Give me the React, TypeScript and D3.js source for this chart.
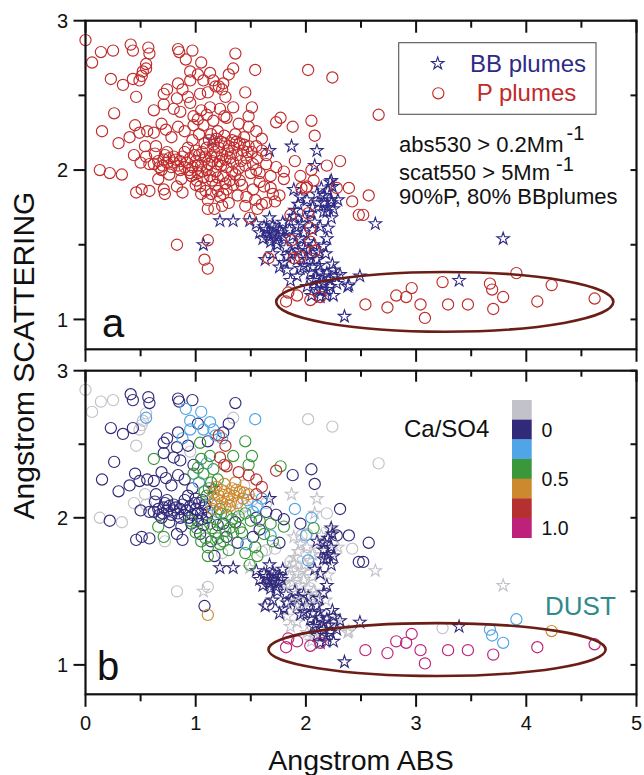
import React from 'react';
import * as d3 from 'd3';

type Pt = [number, number, string];

// ---------- data ----------
const xDomain: [number, number] = [0, 5];
const yDomain: [number, number] = [0.8, 3];
const xTickValues = [0, 1, 2, 3, 4, 5];
const yTickValues = [1, 2, 3];
const minorStep = 0.5;

const categoryKeys = ['g', 'n', 'lb', 'gr', 'o', 'r', 'm'];
const categoryColors = ['#c2c2ca', '#312a7a', '#4fa5e6', '#3a973a', '#cc892d', '#b53030', '#be2179'];
const colorbarLabels = [
  { label: '0', key: 'n', pos: 'center' },
  { label: '0.5', key: 'o', pos: 'start' },
  { label: '1.0', key: 'm', pos: 'center' },
];

// ellipse: [cx, cy, rx, ry] in data units
const ellipseA = [3.26, 1.118, 1.53, 0.2];
const ellipseB = [3.19, 1.104, 1.53, 0.18];

// P plumes (circles): x, y, Ca/SO4 class
const pPlumes: Pt[] = [
  [0.00, 2.87, 'g'], [0.06, 2.72, 'g'], [0.14, 2.79, 'g'], [0.25, 2.80, 'g'], [0.41, 2.84, 'n'], [0.43, 2.80, 'n'],
  [0.57, 2.82, 'n'], [0.58, 2.78, 'n'], [0.55, 2.71, 'g'], [0.55, 2.68, 'lb'], [0.52, 2.66, 'g'], [0.84, 2.81, 'n'],
  [0.85, 2.79, 'n'], [0.97, 2.80, 'n'], [0.91, 2.74, 'lb'], [1.05, 2.72, 'lb'], [1.36, 2.78, 'n'], [1.54, 2.67, 'lb'],
  [1.34, 2.68, 'g'], [1.30, 2.64, 'n'],
  [0.23, 2.61, 'n'], [0.34, 2.57, 'n'], [0.43, 2.61, 'n'], [0.49, 2.60, 'g'], [0.51, 2.63, 'g'], [0.46, 2.49, 'g'],
  [0.71, 2.51, 'n'], [0.74, 2.54, 'n'], [0.84, 2.58, 'n'], [0.88, 2.54, 'lb'], [0.95, 2.66, 'lb'], [0.95, 2.60, 'lb'],
  [1.02, 2.64, 'n'], [1.07, 2.60, 'lb'], [1.13, 2.65, 'lb'], [1.16, 2.60, 'lb'], [1.21, 2.56, 'r'], [1.24, 2.54, 'lb'],
  [1.27, 2.49, 'r'], [1.25, 2.58, 'n'], [1.45, 2.52, 'gr'], [0.83, 2.48, 'n'], [0.93, 2.49, 'n'], [1.04, 2.51, 'gr'],
  [1.11, 2.52, 'n'], [1.18, 2.56, 'lb'],
  [0.26, 2.38, 'n'], [0.62, 2.40, 'gr'], [0.71, 2.44, 'n'], [0.80, 2.41, 'n'], [0.86, 2.39, 'n'], [0.95, 2.45, 'g'],
  [1.05, 2.40, 'gr'], [1.13, 2.42, 'gr'], [1.22, 2.41, 'r'], [1.34, 2.42, 'gr'], [1.48, 2.36, 'gr'], [1.51, 2.42, 'gr'],
  [1.26, 2.36, 'r'],
  [0.15, 2.26, 'n'], [0.30, 2.18, 'n'], [0.45, 2.30, 'n'], [0.40, 2.22, 'n'], [0.49, 2.25, 'n'], [0.56, 2.26, 'n'],
  [0.62, 2.25, 'n'], [0.69, 2.31, 'n'], [0.84, 2.29, 'n'], [0.98, 2.30, 'gr'], [1.07, 2.30, 'gr'], [1.10, 2.37, 'lb'],
  [1.16, 2.33, 'gr'], [1.28, 2.35, 'r'], [1.39, 2.31, 'r'], [1.48, 2.29, 'r'], [1.73, 2.32, 'r'], [1.77, 2.35, 'gr'],
  [1.88, 2.29, 'n'], [2.05, 2.33, 'n'], [2.08, 2.23, 'n'], [2.02, 2.67, 'g'], [2.24, 2.62, 'g'], [2.66, 2.37, 'g'],
  [1.60, 2.21, 'r'], [1.55, 2.26, 'r'],
  [0.13, 2.00, 'g'], [0.22, 1.98, 'n'], [0.33, 1.97, 'g'], [0.46, 1.85, 'n'], [0.51, 1.87, 'n'], [0.58, 1.86, 'n'],
  [0.71, 1.87, 'gr'], [0.72, 1.84, 'g'], [0.83, 1.89, 'n'], [0.88, 1.85, 'n'],
  [0.54, 2.16, 'g'], [0.63, 2.11, 'n'], [0.71, 2.07, 'n'], [0.74, 2.12, 'n'], [0.80, 2.09, 'n'], [0.86, 2.06, 'n'],
  [0.90, 2.02, 'n'], [0.95, 1.98, 'gr'], [1.01, 1.93, 'gr'], [1.04, 1.89, 'n'], [1.05, 1.84, 'gr'], [1.11, 1.80, 'gr'],
  [1.11, 1.74, 'gr'], [1.17, 1.74, 'n'], [1.22, 1.82, 'gr'], [1.28, 1.87, 'n'], [1.34, 1.90, 'gr'], [1.40, 1.93, 'gr'],
  [1.46, 1.82, 'lb'], [1.54, 1.80, 'gr'], [1.60, 1.77, 'g'], [1.56, 1.74, 'gr'], [1.64, 1.78, 'g'], [1.49, 1.68, 'gr'],
  [1.55, 2.00, 'n'], [1.64, 2.04, 'n'], [1.73, 2.02, 'n'], [1.80, 1.99, 'n'], [1.80, 1.94, 'gr'], [1.95, 1.96, 'n'],
  [2.05, 2.00, 'lb'], [2.19, 2.03, 'g'], [2.07, 1.93, 'gr'], [2.00, 1.88, 'lb'], [2.31, 2.06, 'n'], [2.28, 1.88, 'n'],
  [1.96, 1.88, 'g'],
  [1.11, 1.53, 'g'], [1.08, 1.40, 'n'], [1.11, 1.34, 'o'], [0.83, 1.50, 'g'],
  [0.62, 2.04, 'n'], [0.66, 2.06, 'n'], [0.70, 2.03, 'n'], [0.74, 2.05, 'n'], [0.78, 2.02, 'n'], [0.82, 2.07, 'n'],
  [0.84, 2.03, 'n'], [0.88, 2.09, 'n'], [0.92, 2.05, 'n'], [0.95, 2.08, 'n'], [0.97, 2.02, 'n'], [1.00, 2.06, 'n'],
  [1.03, 2.10, 'n'], [1.05, 2.03, 'n'], [1.08, 2.07, 'n'], [1.10, 2.00, 'n'], [1.12, 2.04, 'n'], [1.14, 2.09, 'lb'],
  [0.96, 1.96, 'n'], [1.02, 1.98, 'n'], [1.07, 1.95, 'n'], [1.13, 1.96, 'gr'], [1.18, 1.99, 'gr'], [1.20, 2.04, 'lb'],
  [1.17, 2.12, 'o'], [1.21, 2.15, 'o'], [1.24, 2.10, 'o'], [1.26, 2.18, 'o'], [1.29, 2.13, 'o'], [1.31, 2.08, 'o'],
  [1.33, 2.20, 'o'], [1.35, 2.15, 'o'], [1.38, 2.10, 'o'], [1.40, 2.18, 'o'], [1.43, 2.13, 'o'], [1.46, 2.08, 'g'],
  [1.48, 2.16, 'o'], [1.51, 2.12, 'g'], [1.26, 2.23, 'o'], [1.36, 2.24, 'o'], [1.44, 2.22, 'g'], [1.22, 2.06, 'gr'],
  [1.28, 2.02, 'gr'], [1.34, 2.05, 'g'], [1.39, 2.01, 'gr'], [1.45, 2.03, 'gr'], [1.50, 1.98, 'gr'], [1.56, 2.08, 'lb'],
  [1.60, 2.13, 'lb'], [1.64, 2.10, 'g'], [1.25, 1.96, 'n'], [1.31, 1.93, 'gr'], [1.36, 1.97, 'n'], [1.42, 1.90, 'gr'],
  [1.18, 1.90, 'gr'], [1.00, 2.13, 'n'], [0.93, 2.15, 'n'], [1.08, 2.18, 'gr'], [1.03, 2.24, 'lb'], [0.97, 2.20, 'n'],
  [1.14, 2.24, 'gr'], [1.20, 2.26, 'gr'], [0.69, 2.00, 'n'], [0.76, 1.97, 'n'], [0.58, 2.04, 'n'], [0.55, 2.09, 'g'],
  [0.66, 1.94, 'gr'], [0.87, 1.94, 'n'], [1.52, 1.87, 'n'], [1.58, 1.92, 'n'], [1.68, 1.96, 'gr'], [1.45, 1.76, 'gr'],
  [1.38, 1.83, 'n'], [1.30, 1.78, 'gr'], [1.24, 1.76, 'g'], [1.68, 1.88, 'lb'], [1.90, 2.06, 'lb'], [0.50, 2.05, 'n'],
  [0.44, 2.10, 'g'], [0.64, 2.16, 'n'],
  [1.06, 2.12, 'n'], [1.10, 2.15, 'gr'], [1.15, 2.06, 'o'], [1.19, 2.09, 'o'], [1.23, 2.03, 'gr'], [1.27, 2.07, 'o'],
  [1.30, 2.16, 'o'], [1.32, 2.11, 'o'], [1.37, 2.19, 'o'], [1.41, 2.06, 'g'], [1.44, 2.17, 'o'], [1.47, 2.12, 'lb'],
  [1.16, 2.17, 'o'], [1.12, 2.20, 'gr'], [1.19, 2.21, 'o'], [1.23, 2.19, 'o'], [1.09, 2.09, 'n'], [1.02, 2.03, 'n'],
  [0.99, 2.10, 'n'], [0.94, 2.00, 'n'], [0.90, 2.12, 'n'], [0.86, 2.00, 'n'], [0.80, 2.05, 'n'], [0.76, 2.08, 'n'],
  [0.72, 2.10, 'n'], [0.67, 2.02, 'n'], [1.15, 1.93, 'gr'], [1.20, 1.95, 'n'], [1.27, 1.91, 'gr'], [1.33, 1.99, 'gr'],
  [1.06, 1.99, 'n'], [1.00, 1.90, 'gr'], [1.09, 1.86, 'gr'], [1.14, 1.84, 'n'], [1.20, 1.86, 'gr'], [1.25, 1.84, 'gr'],
  [1.55, 2.16, 'r'], [1.52, 2.04, 'lb'], [1.58, 1.98, 'gr'], [1.62, 1.89, 'gr'], [1.70, 1.84, 'gr'], [1.72, 1.79, 'g'],
  [1.76, 1.83, 'n'], [0.98, 2.36, 'n'], [1.02, 2.34, 'gr'], [0.90, 2.26, 'n'], [0.78, 2.22, 'n'], [0.73, 2.27, 'n'],
  [1.86, 1.70, 'g'], [2.02, 1.71, 'lb'], [2.04, 1.61, 'g'], [1.87, 1.53, 'g'], [2.04, 1.52, 'g'], [2.08, 1.46, 'g'],
  [1.89, 1.41, 'g'], [1.95, 1.42, 'g'], [1.66, 1.41, 'n'], [2.01, 1.89, 'g'], [2.39, 1.88, 'n'], [2.42, 1.79, 'g'],
  [2.57, 1.83, 'n'], [2.48, 1.70, 'n'], [2.52, 1.70, 'n'],
  [1.82, 1.12, 'm'], [1.84, 1.18, 'm'], [1.92, 1.16, 'm'], [2.04, 1.13, 'm'], [2.13, 1.15, 'm'], [2.54, 1.10, 'm'],
  [2.74, 1.08, 'm'], [2.82, 1.16, 'm'], [2.91, 1.15, 'm'], [2.96, 1.21, 'm'], [3.04, 1.10, 'm'], [3.08, 1.01, 'm'],
  [3.29, 1.10, 'm'], [3.47, 1.10, 'm'], [3.70, 1.07, 'm'], [4.10, 1.12, 'm'], [4.62, 1.14, 'm'], [3.24, 1.25, 'g'],
  [3.67, 1.24, 'lb'], [3.69, 1.20, 'lb'], [3.79, 1.15, 'lb'], [3.91, 1.31, 'lb'], [4.23, 1.23, 'o'],
];

// BB plumes (stars)
const bbPlumes: Pt[] = [
  [1.67, 2.13, 'n'], [1.87, 2.16, 'g'], [2.10, 2.13, 'g'], [2.08, 2.03, 'g'], [2.23, 1.93, 'n'], [2.23, 1.80, 'n'],
  [2.63, 1.64, 'g'], [3.79, 1.54, 'g'], [3.39, 1.26, 'n'], [2.49, 1.29, 'n'], [2.39, 1.23, 'g'], [2.35, 1.02, 'n'],
  [1.22, 1.66, 'n'], [1.34, 1.66, 'n'], [1.49, 1.66, 'g'], [1.07, 1.50, 'g'], [1.15, 2.20, 'n'],
  [1.63, 1.40, 'n'], [1.58, 1.58, 'n'], [1.64, 1.60, 'n'], [1.67, 1.55, 'n'], [1.73, 1.53, 'n'], [1.76, 1.60, 'n'],
  [1.70, 1.63, 'n'], [1.79, 1.65, 'n'], [1.89, 1.69, 'g'], [1.90, 1.73, 'g'], [1.89, 1.87, 'g'], [2.10, 1.84, 'n'],
  [2.16, 1.78, 'n'], [2.23, 1.78, 'g'], [2.22, 1.92, 'g'], [2.13, 1.62, 'n'], [2.20, 1.61, 'g'], [2.19, 1.54, 'n'],
  [2.16, 1.49, 'n'], [2.07, 1.50, 'g'], [1.95, 1.54, 'g'], [1.83, 1.42, 'n'], [1.76, 1.35, 'n'], [1.86, 1.26, 'g'],
  [1.95, 1.34, 'n'], [2.01, 1.40, 'n'], [2.10, 1.40, 'n'], [2.13, 1.32, 'n'], [2.19, 1.31, 'n'], [2.25, 1.33, 'n'],
  [2.31, 1.30, 'n'], [2.07, 1.26, 'n'], [2.16, 1.24, 'n'], [2.22, 1.22, 'n'], [2.25, 1.16, 'n'], [2.13, 1.15, 'n'],
  [2.01, 1.22, 'g'], [2.38, 1.22, 'g'], [1.67, 1.68, 'n'], [1.55, 1.64, 'n'], [1.96, 1.64, 'g'], [2.04, 1.71, 'g'],
  [2.01, 1.80, 'g'], [1.95, 1.82, 'g'], [2.16, 1.72, 'n'], [2.23, 1.68, 'n'], [1.93, 1.46, 'n'], [2.04, 1.43, 'g'],
  [1.92, 1.40, 'n'], [1.83, 1.33, 'g'], [1.92, 1.29, 'g'], [2.04, 1.31, 'n'], [2.10, 1.20, 'n'], [2.19, 1.20, 'n'],
  [2.05, 1.16, 'g'],
  [1.62, 1.62, 'n'], [1.66, 1.58, 'n'], [1.70, 1.57, 'n'], [1.72, 1.61, 'n'], [1.75, 1.56, 'n'], [1.78, 1.58, 'n'],
  [1.68, 1.52, 'n'], [1.61, 1.54, 'n'], [1.74, 1.50, 'n'], [1.80, 1.55, 'g'], [1.85, 1.60, 'g'], [1.88, 1.56, 'g'],
  [1.90, 1.50, 'n'], [1.98, 1.48, 'n'], [2.02, 1.52, 'g'], [1.98, 1.58, 'g'], [2.06, 1.60, 'g'], [2.08, 1.65, 'n'],
  [1.93, 1.62, 'g'], [1.85, 1.66, 'g'], [1.82, 1.48, 'n'], [1.87, 1.44, 'n'], [1.98, 1.36, 'n'], [2.06, 1.35, 'n'],
  [2.12, 1.36, 'n'], [2.16, 1.29, 'n'], [2.21, 1.27, 'n'], [2.27, 1.29, 'g'], [2.28, 1.24, 'n'], [2.09, 1.28, 'n'],
  [2.12, 1.24, 'g'], [2.18, 1.16, 'n'], [2.14, 1.19, 'g'], [2.24, 1.37, 'n'], [2.18, 1.44, 'g'], [2.12, 1.45, 'n'],
  [1.80, 1.38, 'n'], [1.70, 1.44, 'n'], [2.02, 1.46, 'n'], [2.24, 1.89, 'n'], [2.14, 1.88, 'g'], [2.20, 1.86, 'n'],
  [2.11, 1.78, 'g'], [2.19, 1.72, 'n'], [2.25, 1.74, 'n'], [2.06, 1.75, 'g'], [1.99, 1.68, 'g'], [1.93, 1.77, 'g'],
  [2.29, 1.80, 'g'], [2.17, 1.83, 'n'], [2.20, 1.75, 'n'],
];

// ---------- layout ----------
const W = 644;
const H = 775;
const X0 = 85.5;
const X1 = 636.5;
const panels = [
  { id: 'a', top: 20.7, bottom: 349.3, colored: false, ellipse: ellipseA, topTick: [12, 7] },
  { id: 'b', top: 370.7, bottom: 694.3, colored: true, ellipse: ellipseB, topTick: [11, 6] },
];
const FONT = "'Liberation Sans', Arial, Helvetica, sans-serif";
const P_RED = '#c02b2b';
const BB_BLUE = '#2f2a84';
const ELLIPSE_COLOR = '#6a1e15';
const R = 5.6;

const x = d3.scaleLinear().domain(xDomain).range([X0, X1]);
const starPath = d3.symbol(d3.symbolStar, 48)() as string;
const colorOf = (k: string) => categoryColors[categoryKeys.indexOf(k)];
const order = (k: string) => categoryKeys.indexOf(k);

const minorTicks = d3.range(xDomain[0], xDomain[1] + 1e-9, minorStep);
const minorYTicks = d3.range(1, yDomain[1] + 1e-9, minorStep);

function Panel({ p }: { p: typeof panels[number] }) {
  const y = d3.scaleLinear().domain(yDomain).range([p.bottom, p.top]);
  const [ecx, ecy, erx, ery] = p.ellipse;
  const stars = p.colored ? [...bbPlumes].sort((a, b) => order(a[2]) - order(b[2])) : bbPlumes;
  const circles = p.colored ? [...pPlumes].sort((a, b) => order(a[2]) - order(b[2])) : pPlumes;
  return (
    <g>
      {stars.map((d, i) => (
        <path key={'s' + i} d={starPath} transform={`translate(${x(d[0])},${y(d[1])})`}
          fill="none" stroke={p.colored ? colorOf(d[2]) : BB_BLUE} strokeWidth={1.1} />
      ))}
      {circles.map((d, i) => (
        <circle key={'c' + i} cx={x(d[0])} cy={y(d[1])} r={R}
          fill="none" stroke={p.colored ? colorOf(d[2]) : P_RED} strokeWidth={1.15} />
      ))}
      <ellipse cx={x(ecx)} cy={y(ecy)} rx={x(erx) - x(0)} ry={y(0) - y(ery)}
        fill="none" stroke={ELLIPSE_COLOR} strokeWidth={2.6} />
      <rect x={X0} y={p.top} width={X1 - X0} height={p.bottom - p.top} fill="none" stroke="#111" strokeWidth={2.2} />
      {minorTicks.map((t) => {
        const major = Math.abs(t - Math.round(t)) < 1e-6;
        const lb = major ? 12.5 : 7;
        const lt = major ? p.topTick[0] : p.topTick[1];
        return (
          <g key={'xt' + t}>
            <line x1={x(t)} x2={x(t)} y1={p.bottom} y2={p.bottom + lb} stroke="#111" strokeWidth={2} />
            <line x1={x(t)} x2={x(t)} y1={p.top} y2={p.top + lt} stroke="#111" strokeWidth={2} />
          </g>
        );
      })}
      {minorYTicks.map((t) => {
        const major = Math.abs(t - Math.round(t)) < 1e-6;
        return (
          <g key={'yt' + t}>
            <line x1={X0} x2={X0 - (major ? 12 : 7)} y1={y(t)} y2={y(t)} stroke="#111" strokeWidth={2} />
            <line x1={X1} x2={X1 - 6} y1={y(t)} y2={y(t)} stroke="#111" strokeWidth={2} />
          </g>
        );
      })}
      {yTickValues.map((t) => (
        <text key={'yl' + t} x={68} y={y(t)} dy="0.36em" textAnchor="end" fontSize={20} fontFamily={FONT} fill="#111">
          {t}
        </text>
      ))}
      <text x={p.id === 'a' ? 102 : 97} y={p.id === 'a' ? 336.5 : 680} fontSize={40} fontFamily={FONT} fill="#111">
        {p.id}
      </text>
    </g>
  );
}

export default function App() {
  const cb = d3.scaleBand<string>().domain(categoryKeys).range([400, 537.7]);
  return (
    <div style={{ position: 'absolute', left: 0, top: 0, width: W, height: H, background: '#fff' }}>
      <svg width={W} height={H} viewBox={`0 0 ${W} ${H}`} style={{ display: 'block' }}>
        <rect width={W} height={H} fill="#fff" />
        {panels.map((p) => (
          <Panel key={p.id} p={p} />
        ))}

        {/* panel a legend */}
        <rect x={398.7} y={42.7} width={197.3} height={71.6} fill="#fff" stroke="#555" strokeWidth={1.1} />
        <path d={starPath} transform="translate(437.7,63.5)" fill="none" stroke={BB_BLUE} strokeWidth={1.1} />
        <circle cx={438.3} cy={93.3} r={R} fill="none" stroke={P_RED} strokeWidth={1.15} />
        <text x={470} y={71.7} fontSize={24} fontFamily={FONT} fill={BB_BLUE}>BB plumes</text>
        <text x={476.7} y={100.7} fontSize={24} fontFamily={FONT} fill={P_RED}>P plumes</text>

        {/* panel a annotations */}
        <text x={399} y={152.3} fontSize={22} fontFamily={FONT} fill="#111">
          abs530 &gt; 0.2Mm<tspan dx={3} dy={-12} fontSize={20}>-1</tspan>
        </text>
        <text x={399} y={179.5} fontSize={22} fontFamily={FONT} fill="#111">
          scat550 &gt; 5Mm<tspan dx={6} dy={-9} fontSize={20}>-1</tspan>
        </text>
        <text x={399} y={203.5} fontSize={22} fontFamily={FONT} fill="#111">90%P, 80% BBplumes</text>

        {/* panel b colour bar */}
        {categoryKeys.map((k, i) => (
          <rect key={'cb' + k} x={512} y={cb(k)} width={19.7} height={cb.bandwidth() + 0.3} fill={categoryColors[i]} />
        ))}
        {colorbarLabels.map((l) => {
          const yy = (cb(l.key) as number) + (l.pos === 'center' ? cb.bandwidth() / 2 : 0);
          return (
            <text key={'cbl' + l.label} x={541.5} y={yy} dy="0.36em" fontSize={19.5} fontFamily={FONT} fill="#111">
              {l.label}
            </text>
          );
        })}
        <text x={404} y={437.3} fontSize={24} fontFamily={FONT} fill="#111">Ca/SO4</text>
        <text x={545} y={615} fontSize={26} fontFamily={FONT} fill="#2f8a8c">DUST</text>

        {xTickValues.map((t) => (
          <text key={'xl' + t} x={x(t)} y={730} textAnchor="middle" fontSize={20} fontFamily={FONT} fill="#111">
            {t}
          </text>
        ))}
        <text x={x(2.5)} y={770} textAnchor="middle" fontSize={28.5} fontFamily={FONT} fill="#111">Angstrom ABS</text>
        <text transform="translate(34,355.5) rotate(-90)" x={0} y={0} textAnchor="middle"
          fontSize={30} fontFamily={FONT} fill="#111">
          Angstrom SCATTERING
        </text>
      </svg>
    </div>
  );
}
